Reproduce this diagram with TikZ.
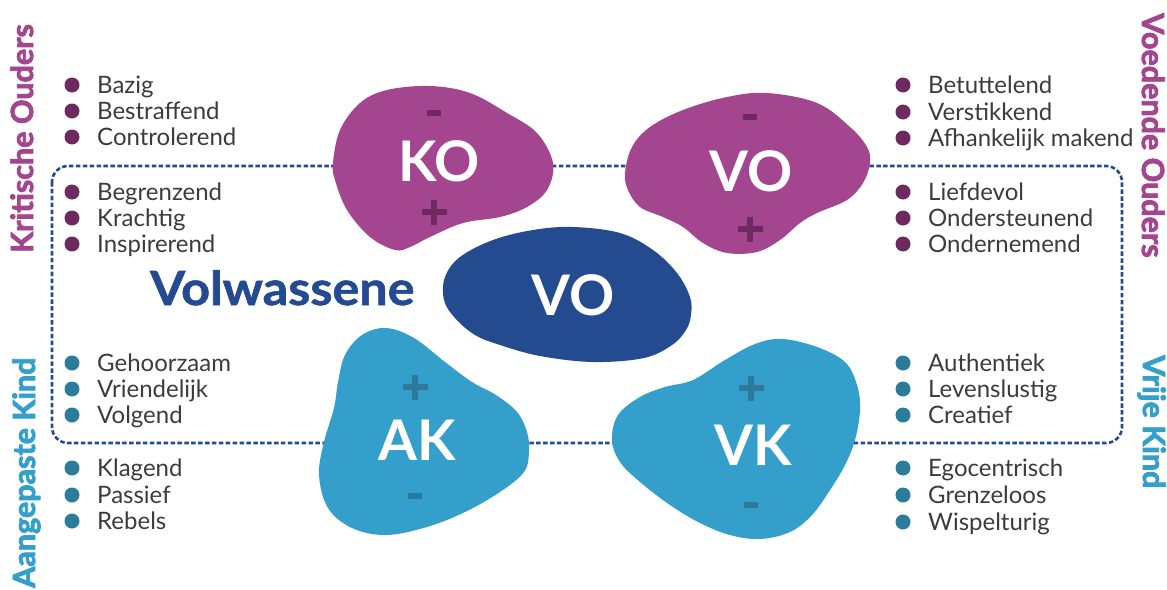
\documentclass[tikz,border=0pt]{standalone}
\usepackage{fontspec}
\setmainfont{Lato}[BoldFeatures={FakeBold=1.2}]
\newfontfamily\labelfont{Lato}
\newfontfamily\headfont{Lato}[BoldFeatures={FakeBold=2.6}]
\definecolor{purp}{HTML}{A3458F}
\definecolor{purpdark}{HTML}{6E2A5E}
\definecolor{lblue}{HTML}{359FCC}
\definecolor{bluedark}{HTML}{2B7B9B}
\definecolor{navy}{HTML}{244A8F}
\definecolor{txt}{HTML}{3C3C3C}
\begin{document}
\begin{tikzpicture}[x=1pt,y=-1pt,
  item/.style={anchor=base west, text=txt, inner sep=0, font=\fontsize{24}{24}\selectfont},
  bul/.style={circle, inner sep=0, minimum size=15pt},
  head/.style={anchor=base west, inner sep=0, font=\headfont\fontsize{30.5}{31}\selectfont\bfseries},
  blobtxt/.style={text=white, inner sep=0, font=\labelfont\fontsize{56}{56}\selectfont\bfseries},
  blob/.style={smooth cycle, tension=0.6},
  frame/.style={navy, line width=2.6pt, dash pattern=on 4.5pt off 2.4pt, rounded corners=16pt},
  plussign/.pic={\fill (-12.5,-3) rectangle (12.5,3); \fill (-3,-12.5) rectangle (3,12.5);},
  minussign/.pic={\fill (-7,-3) rectangle (7,3);}
]
\useasboundingbox (0,0) rectangle (1167,589);
\fill[white] (0,0) rectangle (1167,589);

% dotted frame
\draw[frame] (52,166) rectangle (1122,443);

% blobs
\fill[purp] plot[blob] coordinates {(430,86) (470,93) (507,113) (537,133) (553,163) (547,190) (527,207) (500,217) (463,223) (430,237) (410,247) (395,250) (370,237) (347,210) (335,180) (333,163) (340,130) (360,103) (387,90)};
\fill[purp] plot[blob] coordinates {(767,93) (817,103) (850,127) (867,147) (870,163) (863,183) (847,200) (817,213) (800,223) (780,240) (757,252) (727,253) (703,243) (683,227) (663,217) (640,207) (628,190) (625,173) (632,147) (650,127) (683,110) (727,97)};
\fill[navy] plot[blob] coordinates {(573,227) (620,233) (653,250) (677,273) (690,297) (691,315) (686,330) (672,345) (644,358) (593,362) (540,356) (500,345) (475,335) (455,318) (444,300) (445,277) (460,257) (493,240) (533,230)};
\fill[lblue] plot[blob] coordinates {(386,328) (414,338) (445,362) (472,382) (496,395) (517,412) (527,432) (529,452) (524,472) (500,492) (465,512) (427,527) (386,535) (352,528) (328,508) (319,475) (324,442) (334,408) (338,382) (345,355) (362,335)};
\fill[lblue] plot[blob] coordinates {(782,339) (817,347) (845,362) (857,385) (860,410) (855,440) (845,465) (830,490) (812,515) (790,532) (760,539) (730,535) (700,523) (670,505) (640,482) (620,462) (612,440) (618,415) (640,397) (665,387) (693,380) (725,360) (755,344)};

% blob labels
\node[blobtxt] (ko) at (439,161) {KO};
\node[blobtxt] (vo) at (751,171) {VO};
\node[blobtxt] (vol) at (573,295) {VO};
\node[blobtxt] (ak) at (417,440) {AK};
\node[blobtxt] (vk) at (753,445) {VK};

% signs
\pic[purpdark] at (434,113) {minussign};
\pic[purpdark] at (434,212) {plussign};
\pic[purpdark] at (750,117) {minussign};
\pic[purpdark] at (750,229) {plussign};
\pic[bluedark] at (415,387) {plussign};
\pic[bluedark] at (415,496) {minussign};
\pic[bluedark] at (751,388) {plussign};
\pic[bluedark] at (751,505) {minussign};

% Volwassene
\node[anchor=base west, inner sep=0, text=navy, xscale=1.07, transform shape, font=\fontsize{47}{47}\selectfont\bfseries] (volw) at (150,305) {Volwassene};

% side headings
\node[head, text=purp, rotate=90] (kritisch) at (33,253) {Kritische Ouders};
\node[head, text=lblue, rotate=90] (aangepast) at (35,588) {Aangepaste Kind};
\node[head, text=purp, rotate=-90] (voedend) at (1142,13) {Voedende Ouders};
\node[head, text=lblue, rotate=-90] (vrij) at (1143,355) {Vrije Kind};

% lists
\foreach \t/\y [count=\i] in {Bazig/85, Bestraffend/111, Controlerend/137, Begrenzend/192, Krachtig/218, Inspirerend/244}{
  \node[bul, fill=purpdark] (kob\i) at (72,\y) {};
  \node[item] (kot\i) at (97,\y+8.5) {\t};
}
\foreach \t/\y [count=\i] in {Betuttelend/85, Verstikkend/112, Afhankelijk makend/138, Liefdevol/192, Ondersteunend/218, Ondernemend/244}{
  \node[bul, fill=purpdark] (vob\i) at (903,\y) {};
  \node[item] (vot\i) at (928,\y+8.5) {\t};
}
\foreach \t/\y [count=\i] in {Gehoorzaam/363, Vriendelijk/389, Volgend/415, Klagend/468, Passief/495, Rebels/521}{
  \node[bul, fill=bluedark] (akb\i) at (72,\y) {};
  \node[item] (akt\i) at (97,\y+8.5) {\t};
}
\foreach \t/\y [count=\i] in {Authentiek/363, Levenslustig/389, Creatief/415, Egocentrisch/468, Grenzeloos/495, Wispelturig/522}{
  \node[bul, fill=bluedark] (vkb\i) at (903,\y) {};
  \node[item] (vkt\i) at (928,\y+8.5) {\t};
}
\end{tikzpicture}
\end{document}
